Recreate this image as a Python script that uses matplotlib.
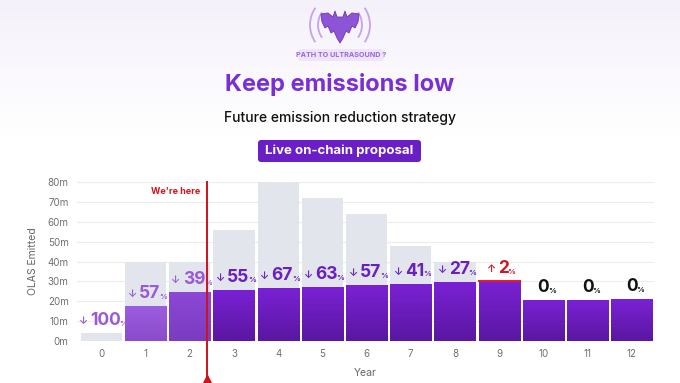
import numpy as np
import matplotlib
matplotlib.use('Agg')
import matplotlib.pyplot as plt
from matplotlib.patches import FancyBboxPatch, Arc, Polygon
from matplotlib.colors import LinearSegmentedColormap

plt.rcParams['font.family'] = ['Inter', 'DejaVu Sans']

# data
years = list(range(13))
original = [4, 40, 40, 56, 80, 72, 64, 48, 40, 29.4, 20.6, 20.6, 20.9]
proposed = [0, 17.5, 24.6, 25.7, 26.6, 27.0, 28.0, 28.7, 29.6, 30.0, 20.6, 20.6, 20.9]
change = [-100, -57, -39, -55, -67, -63, -57, -41, -27, 2, 0, 0, 0]
yticks = [0, 10, 20, 30, 40, 50, 60, 70, 80]
now_x = 2.4

W, H = 680, 383
fig = plt.figure(figsize=(W / 100, H / 100), dpi=100)

# background / header layer in pixel coords
bg = fig.add_axes([0, 0, 1, 1], zorder=0)
bg.axis('off')
grad = np.linspace(0, 1, 200)[:, None] * np.ones((1, 10))
bgcmap = LinearSegmentedColormap.from_list('bg', ['#f5f1fb', '#ffffff'])
bg.imshow(np.clip(grad * 1.6, 0, 1), extent=(0, W, 220, 0), cmap=bgcmap, aspect='auto', vmin=0, vmax=1)
bg.set_xlim(0, W)
bg.set_ylim(H, 0)

# logo: bat + sound arcs + pill
cx, cy = 340, 25
for r in (22, 30):
    bg.add_patch(Arc((cx, cy), 2 * r, 2 * r, theta1=145, theta2=215, color='#c6a3ee', lw=1.3))
    bg.add_patch(Arc((cx, cy), 2 * r, 2 * r, theta1=-35, theta2=35, color='#c6a3ee', lw=1.3))
half = [(0, -8), (3, -8), (5, -14), (7, -8), (12, -12), (19, -11), (18, -3),
        (15, 3), (12, 1), (9, 8), (6, 6), (3, 13), (0, 18)]
pts = half + [(-x, y) for x, y in reversed(half[1:-1])]
bg.add_patch(Polygon([(cx + x, cy + y) for x, y in pts], closed=True, fc='#8e54d6', ec='#6d35b5', lw=0.6))
bg.add_patch(FancyBboxPatch((298, 49), 86, 12, boxstyle='round,pad=0,rounding_size=3',
                            fc='#efe5fb', ec='none'))
bg.text(341, 55, 'PATH TO ULTRASOUND ?', ha='center', va='center', fontsize=5.2,
        fontweight='bold', color='#9a68dd')

bg.text(340, 85, 'Keep emissions low', ha='center', va='center', fontsize=17,
        fontweight='bold', color='#7a2fd6')
bg.text(340, 118, 'Future emission reduction strategy', ha='center', va='center',
        fontsize=10, fontweight='medium', color='#111111')
bg.add_patch(FancyBboxPatch((258, 140), 163, 22, boxstyle='round,pad=0,rounding_size=3',
                            fc='#6a1fc6', ec='none'))
bg.text(339.5, 151, 'Live on-chain proposal', ha='center', va='center', fontsize=9.5,
        fontweight='bold', color='white')

# chart
ax = fig.add_axes([77 / W, (H - 341) / H, (654 - 77) / W, (341 - 182) / H], zorder=1)
ax.patch.set_alpha(0)
for s in ax.spines.values():
    s.set_visible(False)
ax.set_yticks(yticks)
ax.set_yticklabels([f'{v}m' for v in yticks])
ax.set_xticks(years)
ax.tick_params(length=0, labelsize=7, colors='#6f6f6f', pad=6)
ax.yaxis.grid(True, color='#ececec', lw=0.8)
ax.set_axisbelow(True)
ax.set_ylabel('OLAS Emitted', fontsize=7.5, color='#666666', labelpad=7)
ax.set_xlabel('Year', fontsize=7.5, color='#666666', labelpad=6)

bw = 0.93
ax.bar(years, original, width=bw, color='#e2e6ec', zorder=2)
bars = ax.bar(years, proposed, width=bw, color='none', zorder=3)

main_cmap = LinearSegmentedColormap.from_list('m', ['#5a17a2', '#7a21d4'])
past_cmaps = {1: LinearSegmentedColormap.from_list('p1', ['#8a4cca', '#9d5ddf']),
              2: LinearSegmentedColormap.from_list('p2', ['#7a3cc0', '#8c48d6'])}
g = np.linspace(0, 1, 100)[:, None]
for i, b in enumerate(bars):
    h = b.get_height()
    if h <= 0:
        continue
    cm = past_cmaps.get(i, main_cmap)
    im = ax.imshow(g, extent=(b.get_x(), b.get_x() + b.get_width(), 0, h), origin='lower',
                   cmap=cm, aspect='auto', zorder=3)
    im.set_clip_path(b)
    if change[i] > 0:
        ax.plot([b.get_x(), b.get_x() + b.get_width()], [h, h], color='#d9232b', lw=1.5, zorder=4)

# percentage labels
for i, c in enumerate(change):
    top = proposed[i] if proposed[i] > 0 else original[i]
    if c < 0:
        col = '#9a58da' if i in (0, 1, 2) else '#6a1fc0'
        arrow = '\u2193'
        num = f'{-c}'
    elif c > 0:
        col = '#d01720'
        arrow = '\u2191'
        num = f'{c}'
    else:
        col = '#111111'
        arrow = ''
        num = '0'
    dx = 3 if arrow else 0
    t = ax.annotate(num, (years[i], top), xytext=(dx, 9), textcoords='offset points',
                    ha='center', va='center', fontsize=12.5, fontweight='bold', color=col, zorder=5)
    if arrow:
        ax.annotate(arrow, xy=(0, 0.5), xycoords=t, xytext=(-1.5, 0), textcoords='offset points',
                    ha='right', va='center', fontsize=7.5, fontweight='semibold', color=col, zorder=5)
    ax.annotate('%', xy=(1, 0), xycoords=t, xytext=(-0.8, 1.8), textcoords='offset points',
                ha='left', va='bottom', fontsize=5.5, fontweight='bold', color=col, zorder=5)

ax.set_xlim(-0.55, 12.5)
ax.set_ylim(0, 80)

# "we're here" marker
tr = ax.get_xaxis_transform()
ax.plot([now_x, now_x], [1.0, -0.27], transform=tr, color='#d0121b', lw=1.4, clip_on=False, zorder=6)
ax.plot([now_x], [-0.245], transform=tr, marker='^', ms=7, color='#d0121b', clip_on=False, zorder=6)
ax.text(now_x - 0.16, 0.94, "We're here", transform=tr, ha='right', va='center',
        fontsize=6.5, fontweight='bold', color='#d8141c')

fig.savefig('out.png', dpi=100)
